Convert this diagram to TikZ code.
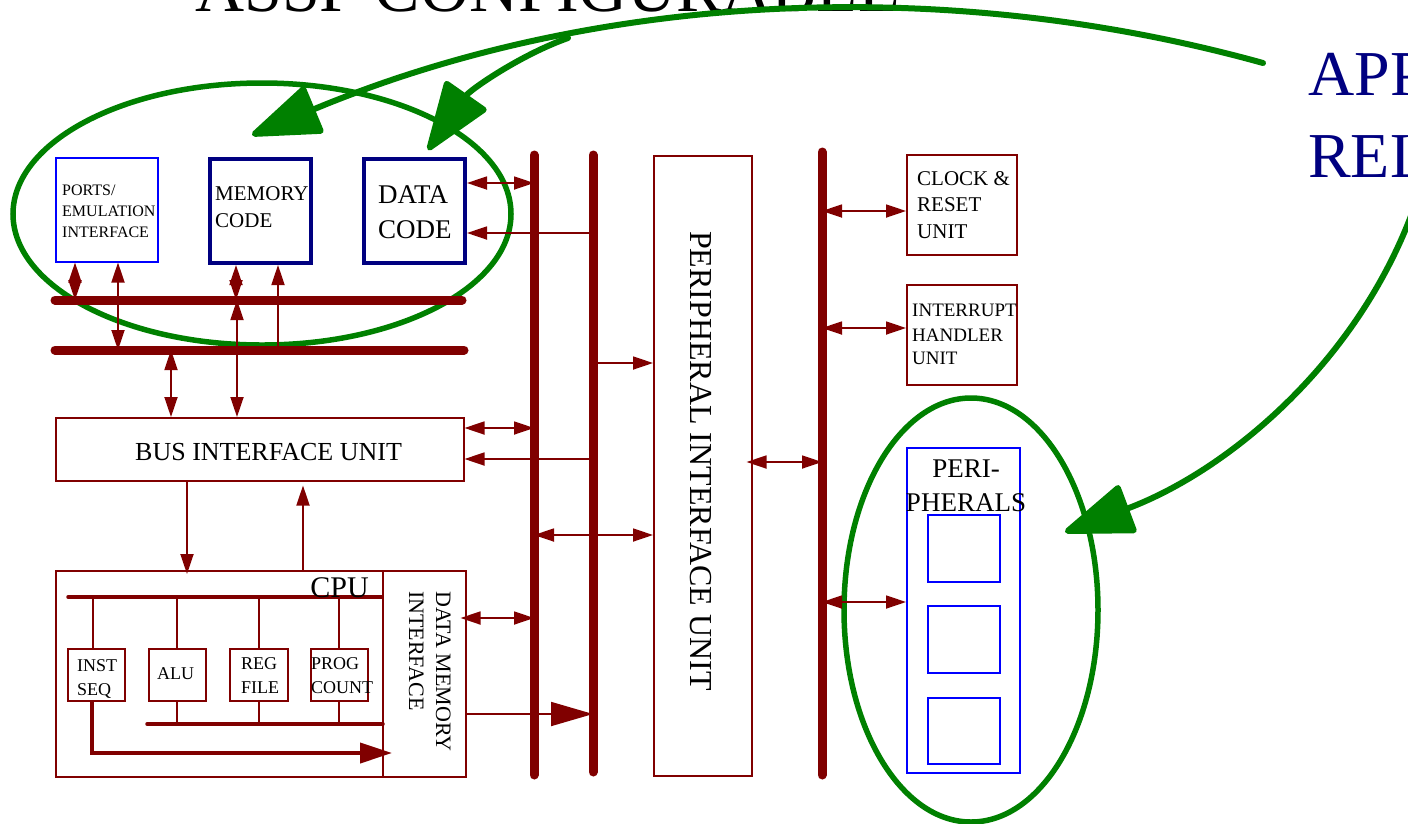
\documentclass[tikz,border=0pt]{standalone}
\usepackage{fontspec}
\setmainfont{Liberation Serif}
\usetikzlibrary{arrows.meta}
\definecolor{dred}{RGB}{128,0,0}
\definecolor{navyb}{RGB}{0,0,128}
\definecolor{blueb}{RGB}{0,0,255}
\definecolor{grn}{RGB}{0,128,0}
\newcommand{\myfs}[1]{\fontsize{#1}{#1}\selectfont}
\begin{document}
\begin{tikzpicture}[x=1pt,y=-1pt,
  redbox/.style={draw=dred, line width=1.5pt, inner sep=0pt, anchor=north west},
  navybox/.style={draw=navyb, line width=4pt, inner sep=0pt, anchor=north west},
  bluebox/.style={draw=blueb, line width=1.5pt, inner sep=0pt, anchor=north west},
  bus/.style={draw=dred, line width=9pt, line cap=round},
  cbus/.style={draw=dred, line width=3.5pt, line cap=round},
  conn/.style={draw=dred, line width=1.8pt},
  dbl/.style={conn, {Triangle[length=20pt,width=13pt]}-{Triangle[length=20pt,width=13pt]}},
  sgl/.style={conn, -{Triangle[length=20pt,width=13pt]}},
  gline/.style={draw=grn, line width=6pt, line cap=round, -{Triangle[length=74pt,width=52pt,round]}},
  gell/.style={draw=grn, line width=5.5pt},
  txt/.style={inner sep=0pt, anchor=base west, text=black}
]
\useasboundingbox (0,0) rectangle (1408,823);

% green ellipses
\draw[gell] (262,214) ellipse [x radius=249, y radius=131];
\draw[gell] (971,610) ellipse [x radius=127, y radius=212];

% title texts
\node[txt, font=\myfs{68}] (title) at (195,11) {ASSP CONFIGURABLE};
\node[txt, font=\myfs{64}, text=navyb] (app) at (1308,95) {APP};
\node[txt, font=\myfs{64}, text=navyb] (rel) at (1308,177) {REL};

% top-left boxes
\node[bluebox, minimum width=102pt, minimum height=104pt] (ports) at (55,157) {};
\node[navybox, minimum width=101pt, minimum height=104pt] (mem) at (208,157) {};
\node[navybox, minimum width=101pt, minimum height=104pt] (data) at (362,157) {};
\node[txt, font=\myfs{16}] (pt1) at (62,195) {PORTS/};
\node[txt, font=\myfs{16}] (pt2) at (62,216) {EMULATION};
\node[txt, font=\myfs{16}] (pt3) at (62,237) {INTERFACE};
\node[txt, font=\myfs{21}] (mt1) at (215,200) {MEMORY};
\node[txt, font=\myfs{21}] (mt2) at (215,227) {CODE};
\node[txt, font=\myfs{27}] (dt1) at (378,203) {DATA};
\node[txt, font=\myfs{27}] (dt2) at (378,238) {CODE};

% horizontal buses
\coordinate (hb1l) at (55,300); \coordinate (hb1r) at (462,300);
\coordinate (hb2l) at (55,350); \coordinate (hb2r) at (464,350);
\draw[bus] (hb1l) -- (hb1r);
\draw[bus] (hb2l) -- (hb2r);

% vertical buses
\coordinate (v1t) at (534,155); \coordinate (v1b) at (534,775);
\coordinate (v2t) at (593,155); \coordinate (v2b) at (593,772);
\coordinate (v3t) at (822,152); \coordinate (v3b) at (822,775);
\draw[bus] (v1t) -- (v1b);
\draw[bus] (v2t) -- (v2b);
\draw[bus] (v3t) -- (v3b);

% BIU
\node[redbox, minimum width=408pt, minimum height=63pt] (biu) at (55,417) {};
\node[txt, font=\myfs{26}] (biut) at (135,460) {BUS INTERFACE UNIT};

% arrows top-left
\draw[dbl] ([xshift=20pt]ports.south west) -- ([xshift=20pt]ports.south west |- hb1l);
\draw[dbl] ([xshift=63pt]ports.south west) -- ([xshift=63pt]ports.south west |- hb2l);
\draw[dbl] ([xshift=28pt]mem.south west) -- ([xshift=28pt]mem.south west |- hb1l);
\draw[sgl] ([xshift=70pt]mem.south west |- hb2l) -- ([xshift=70pt]mem.south west);
\draw[dbl] ([xshift=116pt]biu.north west |- hb2l) -- ([xshift=116pt]biu.north west);
\draw[dbl] ([xshift=182pt]biu.north west |- hb1l) -- ([xshift=182pt]biu.north west);

% arrows to vertical buses
\draw[dbl] ([yshift=-26pt]data.north east) -- ([yshift=-26pt]data.north east -| v1t);
\draw[sgl] ([yshift=-76pt]data.north east -| v2t) -- ([yshift=-76pt]data.north east);
\draw[dbl] ([yshift=-11pt]biu.north east) -- ([yshift=-11pt]biu.north east -| v1t);
\draw[sgl] ([yshift=-42pt]biu.north east -| v2t) -- ([yshift=-42pt]biu.north east);

% PIU
\node[redbox, minimum width=98pt, minimum height=620pt] (piu) at (653,155) {};
\node[rotate=-90, inner sep=0pt, font=\myfs{32}] (piut) at (701,461) {PERIPHERAL INTERFACE UNIT};
\draw[sgl] ([yshift=-208pt]piu.north west -| v2t) -- ([yshift=-208pt]piu.north west);
\draw[dbl] ([yshift=-380pt]piu.north west -| v1t) -- ([yshift=-380pt]piu.north west);
\draw[dbl] ([yshift=-307pt,xshift=-6pt]piu.north east) -- ([yshift=-307pt]piu.north east -| v3t);

% CPU
\node[redbox, minimum width=327pt, minimum height=206pt] (cpu) at (55,570) {};
\node[redbox, minimum width=83pt, minimum height=206pt] (dmi) at (382,570) {};
\draw[sgl] ([xshift=132pt]biu.south west) -- ([xshift=132pt,yshift=-4pt]cpu.north west);
\draw[sgl] ([xshift=248pt]cpu.north west) -- ([xshift=248pt,yshift=-4pt]biu.south west);
\coordinate (cb1l) at (68,597); \coordinate (cb1r) at (382,597);
\coordinate (cb2l) at (147,724); \coordinate (cb2r) at (383,724);
\draw[cbus] (cb1l) -- (cb1r);
\draw[cbus] (cb2l) -- (cb2r);
\node[txt, anchor=base east, font=\myfs{30}] (cput) at (369,597) {CPU};

\node[redbox, minimum width=57pt, minimum height=52pt] (inst) at (67,648) {};
\node[redbox, minimum width=57pt, minimum height=52pt] (alu) at (148,648) {};
\node[redbox, minimum width=58pt, minimum height=52pt] (reg) at (229,648) {};
\node[redbox, minimum width=57pt, minimum height=52pt] (prog) at (310,648) {};
\node[txt, font=\myfs{18}] (it1) at (77,671) {INST};
\node[txt, font=\myfs{18}] (it2) at (77,695) {SEQ};
\node[txt, font=\myfs{18}] (at1) at (157,679) {ALU};
\node[txt, font=\myfs{18}] (rt1) at (241,669) {REG};
\node[txt, font=\myfs{18}] (rt2) at (241,693) {FILE};
\node[txt, font=\myfs{18}] (pr1) at (311,669) {PROG};
\node[txt, font=\myfs{18}] (pr2) at (311,693) {COUNT};

\draw[conn] ([xshift=26pt]inst.north west) -- ([xshift=26pt]inst.north west |- cb1l);
\draw[conn] (alu.north) -- (alu.north |- cb1l);
\draw[conn] (reg.north) -- (reg.north |- cb1l);
\draw[conn] (prog.north) -- (prog.north |- cb1l);
\draw[conn] (alu.south) -- (alu.south |- cb2l);
\draw[conn] (reg.south) -- (reg.south |- cb2l);
\draw[conn] (prog.south) -- (prog.south |- cb2l);
\coordinate (cpuarr) at (392,753);
\draw[draw=dred, line width=4pt, -{Triangle[length=32pt,width=20pt]}] ([xshift=25pt]inst.south west) |- (cpuarr);

\node[txt, rotate=-90, font=\myfs{22}] (dm1) at (436,591) {DATA MEMORY};
\node[txt, rotate=-90, font=\myfs{22}] (dm2) at (409,591) {INTERFACE};
\draw[dbl] ([yshift=-48pt,xshift=-6pt]dmi.north east) -- ([yshift=-48pt]dmi.north east -| v1t);
\draw[conn, -{Triangle[length=42pt,width=24pt]}] ([yshift=-144pt]dmi.north east) -- ([yshift=-144pt]dmi.north east -| v2t);

% right boxes
\node[redbox, minimum width=110pt, minimum height=100pt] (clk) at (906,154) {};
\node[txt, font=\myfs{21}] (ct1) at (917,185) {CLOCK \&};
\node[txt, font=\myfs{21}] (ct2) at (917,211) {RESET};
\node[txt, font=\myfs{21}] (ct3) at (917,238) {UNIT};
\node[redbox, minimum width=110pt, minimum height=100pt] (intr) at (906,284) {};
\node[txt, font=\myfs{19}] (in1) at (912,316) {INTERRUPT};
\node[txt, font=\myfs{19}] (in2) at (912,341) {HANDLER};
\node[txt, font=\myfs{19}] (in3) at (912,364) {UNIT};
\draw[dbl] ([yshift=-57pt]clk.north west -| v3t) -- ([yshift=-57pt]clk.north west);
\draw[dbl] ([yshift=-44pt]intr.north west -| v3t) -- ([yshift=-44pt]intr.north west);

\node[bluebox, minimum width=113pt, minimum height=325pt] (peri) at (906,447) {};
\node[bluebox, minimum width=72pt, minimum height=67pt] (pb1) at (927,514) {};
\node[bluebox, minimum width=72pt, minimum height=67pt] (pb2) at (927,605) {};
\node[bluebox, minimum width=72pt, minimum height=66pt] (pb3) at (927,697) {};
\node[txt, anchor=base, font=\myfs{27}] (pe1) at (966,477) {PERI-};
\node[txt, anchor=base, font=\myfs{27}] (pe2) at (966,511) {PHERALS};
\draw[dbl] ([yshift=-155pt]peri.north west -| v3t) -- ([yshift=-155pt]peri.north west);

% green arrows
\coordinate (g1s) at (1263,63); \coordinate (g1e) at (252,135);
\coordinate (g2s) at (568,38); \coordinate (g2e) at (428,150);
\coordinate (g3s) at (1415,205); \coordinate (g3e) at (1065,532);
\draw[gline] (g1s) .. controls (950,-24) and (600,-10) .. (g1e);
\draw[gline] (g2s) .. controls (520,55) and (470,90) .. (g2e);
\draw[gline] (g3s) .. controls (1360,360) and (1230,470) .. (g3e);
\end{tikzpicture}
\end{document}
